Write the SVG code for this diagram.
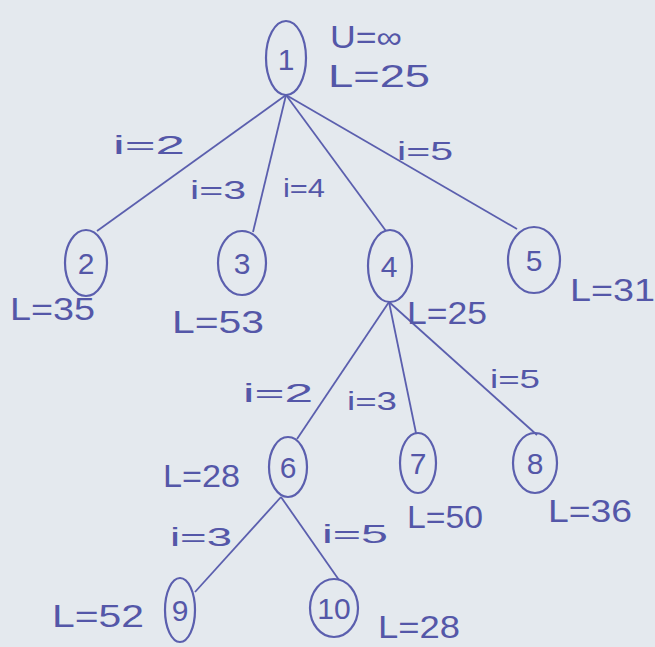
<svg xmlns="http://www.w3.org/2000/svg" width="655" height="647" viewBox="0 0 655 647">
<style>
.n{fill:none;stroke:#5b5fae;stroke-width:2.2}
.e{stroke:#5b5fae;stroke-width:1.8;fill:none}
text{font-family:"Liberation Sans",Arial,sans-serif;fill:#5457a8}
.num{font-size:30px;text-anchor:middle}
.lb{font-size:31px}
.el{font-size:25px}
</style>
<rect width="655" height="647" fill="#e4e9ee"/>
<g id="connectors">
<line class="e" x1="286" y1="95" x2="97" y2="231"/>
<line class="e" x1="286" y1="95" x2="253" y2="232"/>
<line class="e" x1="286" y1="95" x2="386" y2="231"/>
<line class="e" x1="286" y1="95" x2="517" y2="229"/>
<line class="e" x1="389" y1="302" x2="297" y2="439"/>
<line class="e" x1="389" y1="302" x2="416" y2="433"/>
<line class="e" x1="389" y1="302" x2="537" y2="435"/>
<line class="e" x1="281" y1="497" x2="195" y2="592"/>
<line class="e" x1="281" y1="497" x2="339" y2="580"/>
</g>
<g id="node1"><ellipse class="n" cx="286" cy="58" rx="20" ry="37"/><text class="num" x="286" y="70">1</text></g>
<g id="node2"><ellipse class="n" cx="86" cy="263" rx="21" ry="33"/><text class="num" x="86" y="274">2</text></g>
<g id="node3"><ellipse class="n" cx="242" cy="263" rx="24" ry="32"/><text class="num" x="242" y="274">3</text></g>
<g id="node4"><ellipse class="n" cx="390" cy="266" rx="22" ry="36"/><text class="num" x="389" y="277">4</text></g>
<g id="node5"><ellipse class="n" cx="534" cy="260" rx="26" ry="33"/><text class="num" x="534" y="271">5</text></g>
<g id="node6"><ellipse class="n" cx="288" cy="467" rx="19" ry="30"/><text class="num" x="288" y="478">6</text></g>
<g id="node7"><ellipse class="n" cx="418" cy="463" rx="18" ry="30"/><text class="num" x="418" y="474">7</text></g>
<g id="node8"><ellipse class="n" cx="535" cy="463" rx="22" ry="30"/><text class="num" x="535" y="474">8</text></g>
<g id="node9"><ellipse class="n" cx="180" cy="610" rx="15" ry="32"/><text class="num" x="180" y="621">9</text></g>
<g id="node10"><ellipse class="n" cx="334" cy="608" rx="24" ry="29"/><text class="num" x="334" y="619">10</text></g>
<g id="labels">
<text class="lb" x="330" y="48" textLength="72" lengthAdjust="spacingAndGlyphs">U=∞</text>
<text class="lb" x="328" y="87" textLength="102" lengthAdjust="spacingAndGlyphs">L=25</text>
<text class="el" x="113" y="154" textLength="72" lengthAdjust="spacingAndGlyphs">i=2</text>
<text class="el" x="190" y="199" textLength="56" lengthAdjust="spacingAndGlyphs">i=3</text>
<text class="el" x="283" y="197" font-size="19" textLength="42" lengthAdjust="spacingAndGlyphs">i=4</text>
<text class="el" x="397" y="160" textLength="56" lengthAdjust="spacingAndGlyphs">i=5</text>
<text class="lb" x="10" y="320" textLength="85" lengthAdjust="spacingAndGlyphs">L=35</text>
<text class="lb" x="172" y="333" textLength="92" lengthAdjust="spacingAndGlyphs">L=53</text>
<text class="lb" x="407" y="324" textLength="80" lengthAdjust="spacingAndGlyphs">L=25</text>
<text class="lb" x="570" y="301" textLength="85" lengthAdjust="spacingAndGlyphs">L=31</text>
<text class="el" x="243" y="402" textLength="70" lengthAdjust="spacingAndGlyphs">i=2</text>
<text class="el" x="347" y="410" textLength="50" lengthAdjust="spacingAndGlyphs">i=3</text>
<text class="el" x="490" y="388" textLength="50" lengthAdjust="spacingAndGlyphs">i=5</text>
<text class="lb" x="163" y="487" textLength="77" lengthAdjust="spacingAndGlyphs">L=28</text>
<text class="lb" x="407" y="528" textLength="76" lengthAdjust="spacingAndGlyphs">L=50</text>
<text class="lb" x="548" y="522" textLength="84" lengthAdjust="spacingAndGlyphs">L=36</text>
<text class="el" x="170" y="546" textLength="62" lengthAdjust="spacingAndGlyphs">i=3</text>
<text class="el" x="322" y="543" textLength="66" lengthAdjust="spacingAndGlyphs">i=5</text>
<text class="lb" x="52" y="627" textLength="92" lengthAdjust="spacingAndGlyphs">L=52</text>
<text class="lb" x="378" y="638" textLength="82" lengthAdjust="spacingAndGlyphs">L=28</text>
</g>
</svg>
